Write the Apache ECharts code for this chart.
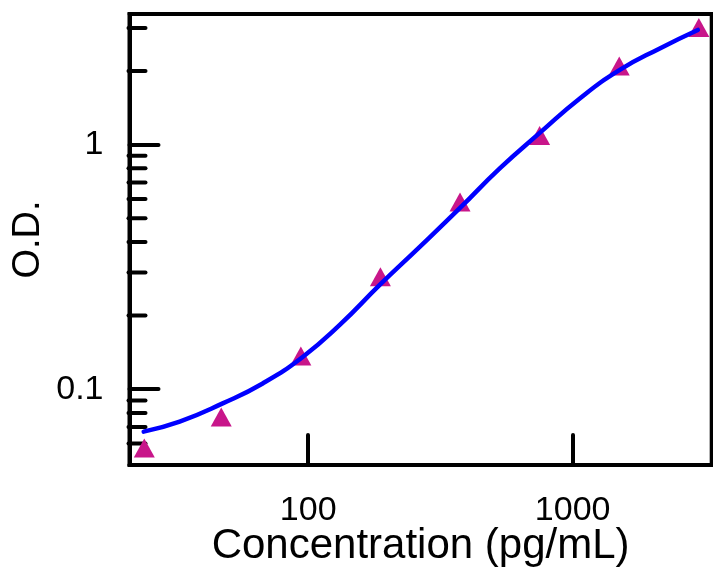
<!DOCTYPE html>
<html>
<head>
<meta charset="utf-8">
<script src="https://cdn.jsdelivr.net/npm/echarts@6/dist/echarts.min.js"></script>
<style>
html,body{margin:0;padding:0;background:#fff;}
#main{width:713px;height:567px;}
</style>
</head>
<body>
<div id="main"></div>
<script>
// Standards (measured points)
const concentrations = [24, 46.9, 93.8, 187.5, 375, 750, 1500, 3000];
const odValues = [0.0575, 0.077, 0.1366, 0.2886, 0.5832, 1.09, 2.098, 3.015];

// Fitted curve
const curveX = [23.87, 32.66, 47.49, 67.30, 95.32, 131.6, 186.4, 264.1, 374.2, 530.1, 750.8, 1064, 1507, 2135, 2973];
const curveY = [0.0671, 0.0737, 0.0875, 0.1056, 0.1355, 0.1832, 0.2669, 0.3817, 0.5495, 0.7994, 1.1164, 1.5446, 2.020, 2.474, 2.943];

// Axis ranges and ticks
const xRange = [21.1, 3355];
const yRange = [0.049, 3.42];
const xTickLabels = ['100', '1000'];
const yTickLabels = ['0.1', '1'];
const yMinorTicks = [0.06, 0.07, 0.08, 0.09, 0.2, 0.3, 0.4, 0.5, 0.6, 0.7, 0.8, 0.9, 2, 3];

const FONT = 'Liberation Sans, Arial, sans-serif';

function fmt(list) {
  return function (v) {
    const s = String(Number(Number(v).toPrecision(6)));
    return list.indexOf(s) >= 0 ? s : '';
  };
}

const chart = echarts.init(document.getElementById('main'), null, {renderer: 'canvas'});
chart.setOption({
  animation: false,
  backgroundColor: '#fff',
  grid: {
    left: 129.5, right: 1.3, top: 14, bottom: 102,
    show: true, borderColor: '#000', borderWidth: 4,
    containLabel: false, outerBoundsMode: 'none'
  },
  xAxis: {
    type: 'log', logBase: 10, min: xRange[0], max: xRange[1],
    name: 'Concentration (pg/mL)', nameLocation: 'middle', nameGap: 60,
    nameMoveOverlap: false,
    nameTextStyle: {fontFamily: FONT, fontSize: 42, color: '#000'},
    axisLine: {lineStyle: {color: '#000', width: 4}},
    axisTick: {inside: true, length: 30, lineStyle: {color: '#000', width: 4, cap: 'round'}},
    axisLabel: {fontFamily: FONT, fontSize: 34, color: '#000', margin: 29, formatter: fmt(xTickLabels)},
    splitLine: {show: false},
    minorTick: {show: false}
  },
  yAxis: {
    type: 'log', logBase: 10, min: yRange[0], max: yRange[1],
    name: 'O.D.', nameLocation: 'middle', nameGap: 82, nameRotate: 90,
    nameMoveOverlap: false,
    nameTextStyle: {fontFamily: FONT, fontSize: 38, color: '#000'},
    axisLine: {lineStyle: {color: '#000', width: 4}},
    axisTick: {inside: true, length: 29, lineStyle: {color: '#000', width: 4, cap: 'round'}},
    axisLabel: {fontFamily: FONT, fontSize: 34, color: '#000', margin: 26, formatter: fmt(yTickLabels)},
    splitLine: {show: false}
  },
  series: [
    {
      type: 'custom',
      coordinateSystem: 'cartesian2d',
      silent: true,
      clip: false,
      data: yMinorTicks.map(v => [xRange[0], v]),
      renderItem: function (params, api) {
        const p = api.coord([api.value(0), api.value(1)]);
        return {
          type: 'line',
          shape: {x1: p[0] - 1, y1: p[1], x2: p[0] + 16, y2: p[1]},
          style: {stroke: '#000', lineWidth: 4, lineCap: 'round'}
        };
      },
      z: 3
    },
    {
      type: 'scatter',
      data: concentrations.map((c, i) => [c, odValues[i]]),
      symbol: 'triangle',
      symbolSize: [21, 19],
      itemStyle: {color: '#C8168A', opacity: 1},
      z: 4
    },
    {
      type: 'line',
      data: curveX.map((c, i) => [c, curveY[i]]),
      showSymbol: false,
      smooth: 0.5,
      lineStyle: {color: '#0000FF', width: 4.5, cap: 'round'},
      z: 5
    }
  ]
});
</script>
</body>
</html>
